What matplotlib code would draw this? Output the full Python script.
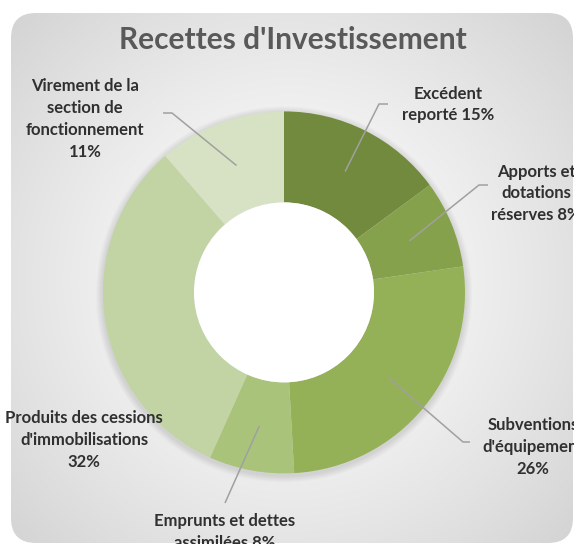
import matplotlib
matplotlib.use("Agg")
import matplotlib.pyplot as plt
import numpy as np
from matplotlib.patches import FancyBboxPatch, Circle

# ---- data ----
title = "Recettes d'Investissement"
categories = ["Excédent reporté", "Apports et dotations réserves",
              "Subventions d'équipement", "Emprunts et dettes assimilées",
              "Produits des cessions d'immobilisations",
              "Virement de la section de fonctionnement"]
label_fmt = ["Excédent\nreporté {}%", "Apports et\ndotations\nréserves {}%",
             "Subventions\nd'équipement\n{}%", "Emprunts et dettes\nassimilées {}%",
             "Produits des cessions\nd'immobilisations\n{}%",
             "Virement de la\nsection de\nfonctionnement\n{}%"]
values = [14.9, 7.8, 26.4, 7.6, 31.9, 11.4]
colors = ["#728A3D", "#86A14B", "#95B158", "#A9C47A", "#C2D4A3", "#D7E2C4"]

# ---- layout (image pixel coordinates) ----
W, H = 574, 544
CX, CY = 284, 292.4
R_OUT, R_IN = 181, 90
label_pos = [(448, 104.5), (536, 193.5), (533, 447), (225, 532), (84, 440), (85, 119)]
elbows = [[(379, 104), (388, 104)], [(479, 185), (488, 185)],
          [(463, 442), (470, 442)], [(225, 503)], None,
          [(172, 113), (163, 113)]]

fig = plt.figure(figsize=(W / 100, H / 100), dpi=100)
ax = fig.add_axes([0, 0, 1, 1])

def Y(y):
    return H - y

# background rounded rect with radial gradient
yy, xx = np.mgrid[0:H, 0:W]
d = np.hypot(xx - 290, yy - 280)
g = 1 - 0.18 * (d / 400) ** 1.3
g = np.clip(g, 0.8, 1)
img = np.dstack([g, g, g])
im = ax.imshow(img, extent=(0, W, 0, H), origin="upper", zorder=0)
box = FancyBboxPatch((11 + 25, Y(543) + 25), 573 - 11 - 50, 543 - 13 - 50,
                     boxstyle="round,pad=25", facecolor="none", edgecolor="none",
                     transform=ax.transData)
ax.add_patch(box)
im.set_clip_path(box)

# soft shadow around donut
for k in range(1, 8):
    ax.add_patch(Circle((CX, Y(CY) - 2), R_OUT + k, facecolor="#808080",
                        alpha=0.035, edgecolor="none", zorder=1))

wedges, _ = ax.pie(values, radius=R_OUT, center=(CX, Y(CY)), startangle=90,
                   counterclock=False, colors=colors,
                   wedgeprops=dict(width=R_OUT - R_IN, edgecolor="none"))
for w in wedges:
    w.set_zorder(2)
ax.add_patch(Circle((CX, Y(CY)), R_IN, facecolor="#FFFFFF", edgecolor="none", zorder=3))

# labels and leader lines
total = sum(values)
start = 90.0
r_mid = (R_OUT + R_IN) / 2
for i, v in enumerate(values):
    span = 360 * v / total
    mid = np.deg2rad(start - span / 2)
    start -= span
    ax_ = CX + r_mid * np.cos(mid)
    ay_ = CY - r_mid * np.sin(mid)
    if elbows[i] is not None:
        pts = [(ax_, ay_)] + elbows[i]
        ax.plot([p[0] for p in pts], [Y(p[1]) for p in pts], color="#A0A0A0",
                lw=1.1, zorder=4, solid_capstyle="butt")
    lx, ly = label_pos[i]
    ax.text(lx, Y(ly), label_fmt[i].format(round(v)), ha="center", va="center",
            fontsize=12, fontweight="bold", color="#303030", family="Lato",
            linespacing=1.45, zorder=5)

ax.text(293, Y(40), title, ha="center", va="center", fontsize=21.5,
        fontweight="bold", color="#595959", family="Lato", zorder=5)

ax.set_xlim(0, W)
ax.set_ylim(0, H)
ax.set_aspect("auto")
ax.axis("off")
fig.savefig("out.png", dpi=100)
